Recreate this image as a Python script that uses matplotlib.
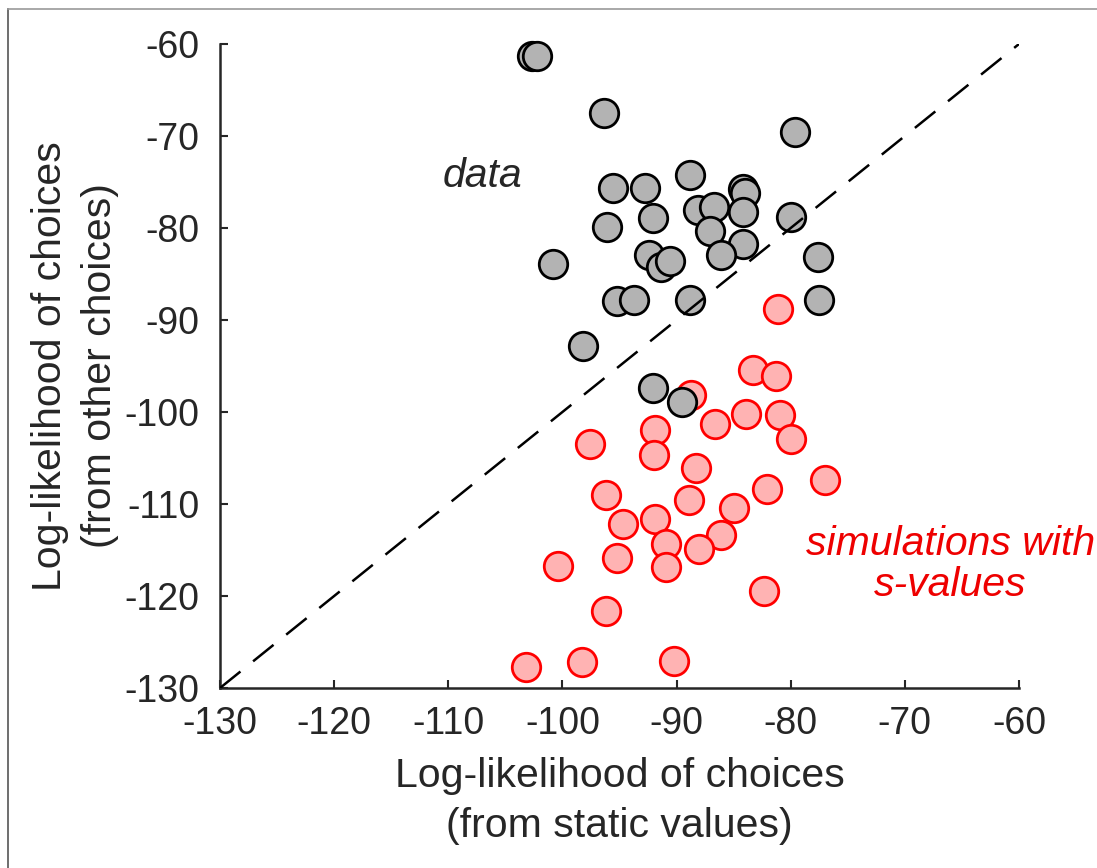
import matplotlib
matplotlib.use("Agg")
import matplotlib.pyplot as plt
from matplotlib.lines import Line2D

plt.rcParams['font.family'] = ['Liberation Sans', 'DejaVu Sans']

data_x = [-102.7, -102.2, -96.4, -79.6, -88.8, -95.6, -92.8, -84.2, -84.0, -88.1,
          -86.7, -84.2, -80.0, -92.1, -96.1, -87.1, -84.2, -92.4, -86.1, -77.6,
          -91.4, -90.6, -100.8, -95.2, -93.7, -88.8, -77.5, -98.2, -92.1, -89.5]
data_y = [-61.3, -61.3, -67.5, -69.6, -74.2, -75.6, -75.6, -75.8, -76.2, -78.0,
          -77.7, -78.3, -78.8, -78.9, -79.9, -80.3, -81.7, -82.9, -82.9, -83.2,
          -84.2, -83.6, -83.9, -87.9, -87.8, -87.8, -87.8, -92.8, -97.4, -98.9]

sim_x = [-81.1, -83.3, -81.3, -88.7, -86.6, -83.9, -80.9, -80.0, -91.9, -97.6,
         -92.0, -88.3, -77.0, -82.1, -96.2, -88.9, -85.0, -94.7, -91.9, -86.1,
         -90.9, -88.0, -100.4, -95.2, -90.9, -82.3, -96.2, -103.2, -98.3, -90.2]
sim_y = [-88.8, -95.4, -96.1, -98.2, -101.3, -100.2, -100.3, -102.9, -102.0, -103.5,
         -104.7, -106.1, -107.4, -108.4, -109.0, -109.6, -110.4, -112.2, -111.6, -113.4,
         -114.3, -114.9, -116.7, -115.9, -116.8, -119.5, -121.6, -127.7, -127.2, -127.1]

ticks = [-130, -120, -110, -100, -90, -80, -70, -60]
lims = [-130, -60]

fig = plt.figure(figsize=(10.97, 8.68), dpi=100)
ax = fig.add_axes([220/1097, 1-688/868, 799/1097, 644/868])

txt = '#262626'
ax.scatter(sim_x, sim_y, s=420, facecolor='#ffb3b3', edgecolor='#ff0000',
           linewidth=2.0, zorder=2, clip_on=False)
ax.scatter(data_x, data_y, s=420, facecolor='#b3b3b3', edgecolor='black',
           linewidth=2.0, zorder=3, clip_on=False)
ax.plot(lims, lims, color='black', linestyle=(0, (10.5, 6.5)), linewidth=1.8, zorder=4)

ax.set_xlim(lims)
ax.set_ylim(lims)
ax.set_xticks(ticks)
ax.set_yticks(ticks)
ax.set_xticklabels([str(t) for t in ticks])
ax.set_yticklabels([str(t) for t in ticks])
for s in ['top', 'right']:
    ax.spines[s].set_visible(False)
for s in ['left', 'bottom']:
    ax.spines[s].set_color(txt)
    ax.spines[s].set_linewidth(1.8)
ax.tick_params(direction='in', length=6, width=1.5, colors=txt, labelsize=27)
ax.tick_params(axis='x', pad=13)
ax.tick_params(axis='y', pad=15)

ax.set_xlabel('Log-likelihood of choices\n(from static values)', fontsize=29.5,
              color=txt, labelpad=11, linespacing=1.39)
ax.set_ylabel('Log-likelihood of choices\n(from other choices)', fontsize=29.5,
              color=txt, labelpad=4, linespacing=1.39)

ax.text(-107, -74.3, 'data', fontsize=29.5, style='italic', color=txt,
        ha='center', va='center')
ax.text(-66.0, -116.6, 'simulations with\ns-values', fontsize=29.5, style='italic',
        color='#ee0000', ha='center', va='center', linespacing=1.1)

fig.add_artist(Line2D([8/1097, 8/1097], [0, 1-9/868], transform=fig.transFigure,
                      color='#555555', linewidth=1.2))
fig.add_artist(Line2D([8/1097, 1], [1-9/868, 1-9/868], transform=fig.transFigure,
                      color='#999999', linewidth=1.2))

fig.savefig('out.png', dpi=100)
